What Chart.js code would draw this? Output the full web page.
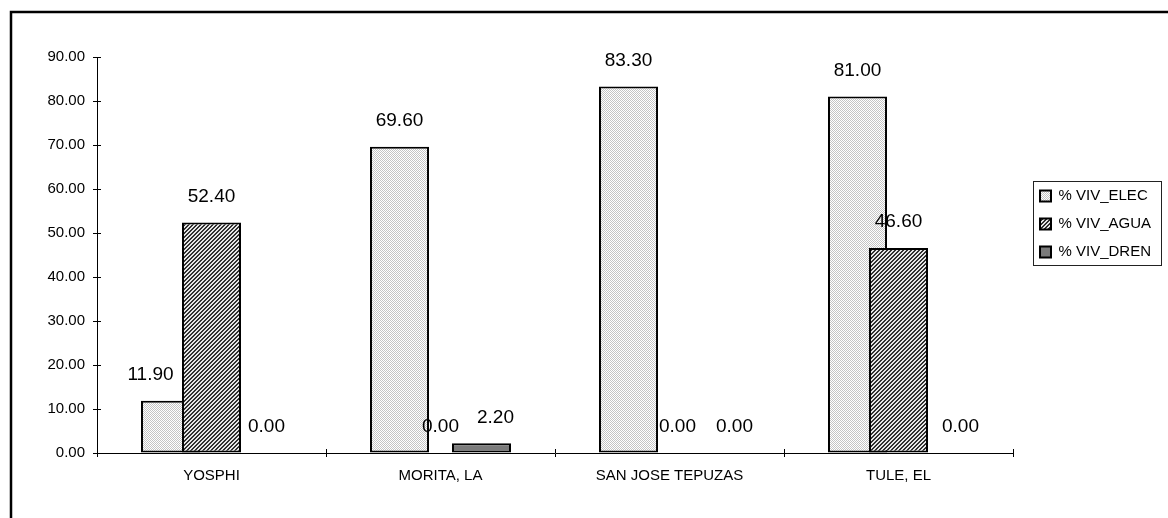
<!DOCTYPE html>
<html>
<head>
<meta charset="utf-8">
<script src="https://cdn.jsdelivr.net/npm/chart.js@4/dist/chart.umd.min.js"></script>
<style>
  html, body { margin: 0; padding: 0; background: #ffffff; }
  #wrap { width: 1168px; height: 518px; position: relative; }
</style>
</head>
<body>
<div id="wrap"><canvas id="c" width="1168" height="518"></canvas></div>
<script>
const categories = ['YOSPHI', 'MORITA, LA', 'SAN JOSE TEPUZAS', 'TULE, EL'];
const seriesNames = ['% VIV_ELEC', '% VIV_AGUA', '% VIV_DREN'];
const vivElec = [11.90, 69.60, 83.30, 81.00];
const vivAgua = [52.40, 0.00, 0.00, 46.60];
const vivDren = [0.00, 2.20, 0.00, 0.00];
const yMin = 0, yMax = 90, yStep = 10;

const FONT = "'Liberation Sans', Arial, sans-serif";

function makePattern(w, h, painter) {
  const c = document.createElement('canvas');
  c.width = w; c.height = h;
  const g = c.getContext('2d');
  for (let y = 0; y < h; y++) for (let x = 0; x < w; x++) {
    g.fillStyle = painter(x, y);
    g.fillRect(x, y, 1, 1);
  }
  return document.getElementById('c').getContext('2d').createPattern(c, 'repeat');
}
const patElec = makePattern(2, 2, (x, y) => ((x + y) % 2 === 0) ? '#c4c4c4' : '#ffffff');
const patAgua = makePattern(4, 4, (x, y) => ((x + y) % 4 < 2) ? '#303030' : '#e6e6e6');
const patDren = '#7b7b7b';

// label nudges (presentation only)
const labelStyle = {
  dy: -26,
  dx: [[-20, 0, 0, 0], [0, 0, 8, 0], [14, 14, 24, 21]]
};

const customPlugin = {
  id: 'custom',
  afterInit(chart) {
    const lg = chart.legend;
    if (lg) {
      const f = lg.fit.bind(lg);
      lg.fit = function () { f(); this.width = 155; };
    }
  },
  afterLayout(chart) {
    const lg = chart.legend;
    if (lg) { lg.left = 1027; lg.top = 175.5; }
  },
  beforeDatasetsDraw(chart) {
    const ctx = chart.ctx;
    const metas = chart.getSortedVisibleDatasetMetas();
    // draw bars so that later series lie on top
    metas.forEach((meta) => meta.controller.draw());
    // value labels
    ctx.save();
    ctx.font = '19px ' + FONT;
    ctx.fillStyle = '#000';
    ctx.textAlign = 'center';
    ctx.textBaseline = 'middle';
    metas.forEach((meta) => {
      const ds = chart.data.datasets[meta.index];
      meta.data.forEach((el, i) => {
        const v = ds.data[i];
        ctx.fillText(v.toFixed(2), el.x + labelStyle.dx[meta.index][i], el.y + labelStyle.dy);
      });
    });
    ctx.restore();
    return false;
  },
  afterDraw(chart) {
    const ctx = chart.ctx;
    const a = chart.chartArea;
    const ys = chart.scales.y;
    ctx.save();
    ctx.strokeStyle = '#000';
    ctx.lineWidth = 1;
    // inner halves of tick marks
    ys.ticks.forEach((t, i) => {
      const y = Math.round(ys.getPixelForTick(i)) + 0.5;
      ctx.beginPath(); ctx.moveTo(a.left, y); ctx.lineTo(a.left + 4, y); ctx.stroke();
    });
    for (let i = 0; i <= categories.length; i++) {
      const x = Math.round(a.left + (a.right - a.left) * i / categories.length) + 0.5;
      ctx.beginPath(); ctx.moveTo(x, a.bottom); ctx.lineTo(x, a.bottom - 4); ctx.stroke();
    }
    // legend border
    const lg = chart.legend;
    ctx.strokeStyle = '#222';
    ctx.lineWidth = 1;
    ctx.strokeRect(lg.left + 6.5, lg.top + 6, 128, 84);
    // outer frame
    ctx.strokeStyle = '#000';
    ctx.lineWidth = 2.5;
    ctx.beginPath();
    ctx.moveTo(11, 518); ctx.lineTo(11, 12); ctx.lineTo(1168, 12);
    ctx.stroke();
    ctx.restore();
  }
};

const common = { borderColor: '#000', borderWidth: 2, borderSkipped: false,
  categoryPercentage: 0.537, barPercentage: 1.44 };

new Chart(document.getElementById('c'), {
  type: 'bar',
  data: {
    labels: categories,
    datasets: [
      Object.assign({ label: seriesNames[0], data: vivElec, backgroundColor: patElec }, common),
      Object.assign({ label: seriesNames[1], data: vivAgua, backgroundColor: patAgua }, common),
      Object.assign({ label: seriesNames[2], data: vivDren, backgroundColor: patDren }, common)
    ]
  },
  options: {
    responsive: false,
    animation: false,
    events: [],
    devicePixelRatio: 1,
    layout: { padding: { top: 57, left: 0, right: 0, bottom: 0 } },
    plugins: {
      legend: {
        position: 'right',
        align: 'start',
        labels: {
          boxWidth: 11, boxHeight: 11, padding: 13,
          color: '#000',
          font: { family: FONT, size: 15 }
        }
      },
      tooltip: { enabled: false }
    },
    scales: {
      x: {
        afterFit(s) { s.height = 65; },
        border: { color: '#000', width: 1 },
        grid: { offset: true, drawOnChartArea: false, tickLength: 4, color: '#000' },
        ticks: { color: '#000', padding: 10, maxRotation: 0, autoSkip: false,
          font: { family: FONT, size: 15 } }
      },
      y: {
        min: yMin, max: yMax,
        afterFit(s) { s.width = 97; },
        border: { color: '#000', width: 1 },
        grid: { drawOnChartArea: false, tickLength: 4, color: '#000' },
        ticks: { stepSize: yStep, color: '#000', padding: 8,
          font: { family: FONT, size: 15 },
          callback: (v) => Number(v).toFixed(2) }
      }
    }
  },
  plugins: [customPlugin]
});
</script>
</body>
</html>
